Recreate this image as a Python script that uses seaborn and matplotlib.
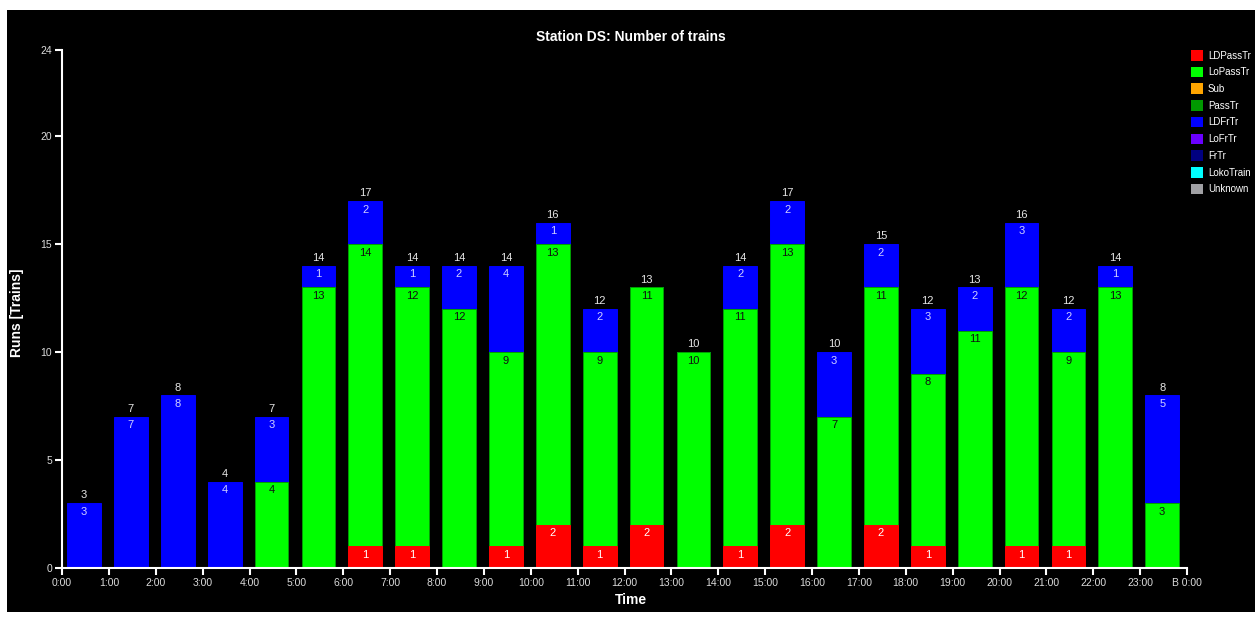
import numpy as np
import pandas as pd
import matplotlib.pyplot as plt
from matplotlib.patches import Patch, Rectangle
import seaborn as sns

# hourly counts per train type (only the non-empty types carry data)
hours     = list(range(24))
ld_pass   = [0, 0, 0, 0, 0, 0, 1, 1, 0, 1, 2, 1, 2, 0, 1, 2, 0, 2, 1, 0, 1, 1, 0, 0]
lo_pass   = [0, 0, 0, 0, 4, 13, 14, 12, 12, 9, 13, 9, 11, 10, 11, 13, 7, 11, 8, 11, 12, 9, 13, 3]
ld_fr     = [3, 7, 8, 4, 3, 1, 2, 1, 2, 4, 1, 2, 0, 0, 2, 2, 3, 2, 3, 2, 3, 2, 1, 5]
tick_text = [f"{h}:00" for h in range(24)] + ["B 0:00"]

legend_names  = ["LDPassTr", "LoPassTr", "Sub", "PassTr", "LDFrTr", "LoFrTr", "FrTr", "LokoTrain", "Unknown"]
legend_colors = ["#ff0000", "#00ff00", "#ffa500", "#009900", "#0000ff", "#6a00ff", "#000080", "#00ffff", "#a0a0a4"]
RED, GREEN, BLUE = "#ff0000", "#00ff00", "#0000ff"

df = pd.DataFrame({"hour": hours, "LDPassTr": ld_pass, "LoPassTr": lo_pass, "LDFrTr": ld_fr})
df["x"]        = df["hour"] + 0.47
df["pass_top"] = df["LDPassTr"] + df["LoPassTr"]
df["total"]    = df["pass_top"] + df["LDFrTr"]

sns.set_theme(style="ticks")
plt.rcParams["font.family"] = ["Liberation Sans", "DejaVu Sans"]

W, H = 1258, 618
fig = plt.figure(figsize=(W / 100, H / 100), dpi=100, facecolor="white")
fig.add_artist(Rectangle((7 / W, 6 / H), 1248 / W, 602 / H, transform=fig.transFigure,
                         facecolor="black", edgecolor="none", zorder=0))
ax = fig.add_axes([62 / W, 50 / H, 1125 / W, 518 / H])
ax.set_facecolor("black")

# stacked look: draw cumulative heights from the top segment down
for col, color, edge in [("total", BLUE, BLUE), ("pass_top", GREEN, "#00a000"), ("LDPassTr", RED, RED)]:
    sns.barplot(data=df, x="x", y=col, native_scale=True, color=color, saturation=1,
                width=0.72, errorbar=None, edgecolor=edge, linewidth=0.7, ax=ax)

for x, red, green, blue, top, tot in zip(df["x"], df["LDPassTr"], df["LoPassTr"], df["LDFrTr"],
                                         df["pass_top"], df["total"]):
    if red > 0:
        ax.annotate(f"{red:d}", (x, red), xytext=(0, -2.5), textcoords="offset points",
                    ha="center", va="top", color="white", fontsize=8)
    if green > 0:
        ax.annotate(f"{green:d}", (x, top), xytext=(0, -2.5), textcoords="offset points",
                    ha="center", va="top", color="#101010", fontsize=8)
    if blue > 0:
        ax.annotate(f"{blue:d}", (x, tot), xytext=(0, -2.5), textcoords="offset points",
                    ha="center", va="top", color="#d0d0ff", fontsize=8)
    ax.annotate(f"{tot:d}", (x, tot), xytext=(0, 2), textcoords="offset points",
                ha="center", va="bottom", color="#e6e6e6", fontsize=8)

ax.set_xlim(0, 24)
ax.set_ylim(0, 24)
ax.set_xticks(range(25))
ax.set_xticklabels(tick_text)
ax.set_yticks([0, 5, 10, 15, 20, 24])
ax.set_yticklabels(["0", "5", "10", "15", "20", "24"])
ax.tick_params(colors="white", labelcolor="#dcdcdc", labelsize=7.5, length=5, width=1.5, pad=2)
for s in ["top", "right"]:
    ax.spines[s].set_visible(False)
for s in ["left", "bottom"]:
    ax.spines[s].set_color("white")
    ax.spines[s].set_linewidth(1.5)
ax.set_xlabel("")
ax.set_ylabel("")

fig.text(631 / W, 1 - 37 / H, "Station DS: Number of trains", ha="center", va="center",
         color="white", fontsize=10, fontweight="bold")
fig.text(631 / W, 1 - 600 / H, "Time", ha="center", va="center",
         color="white", fontsize=10, fontweight="bold")
fig.text(17 / W, 1 - 313 / H, "Runs [Trains]", ha="center", va="center", rotation=90,
         color="white", fontsize=10, fontweight="bold")

handles = [Patch(facecolor=c, edgecolor="none") for c in legend_colors]
fig.legend(handles, legend_names, loc="upper left", bbox_to_anchor=(1190.5 / W, 1 - 50 / H),
           frameon=False, fontsize=7, labelcolor="white", borderpad=0, borderaxespad=0,
           handlelength=1.3, handleheight=1.3, handletextpad=0.5, labelspacing=0.63)

fig.savefig("out.png", dpi=100, facecolor="white")
